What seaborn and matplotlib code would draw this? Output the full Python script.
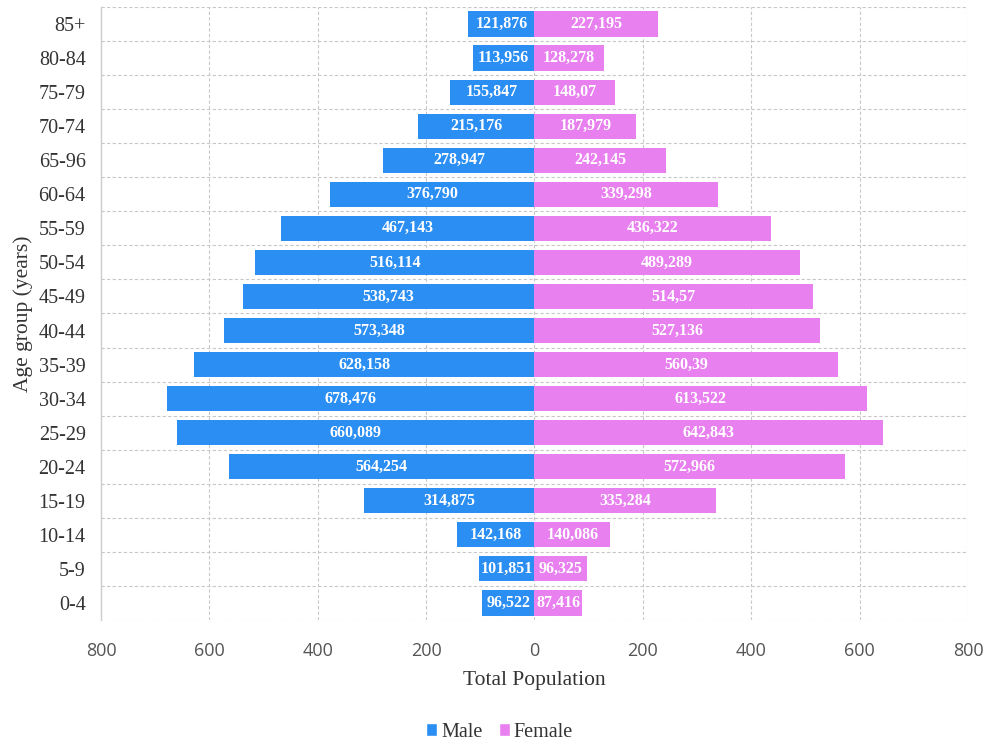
import matplotlib
matplotlib.use("Agg")
import matplotlib.pyplot as plt
import seaborn as sns
import pandas as pd
from matplotlib.patches import Patch

# Age groups, top of the pyramid first
age_groups = ["85+", "80-84", "75-79", "70-74", "65-96", "60-64", "55-59", "50-54",
              "45-49", "40-44", "35-39", "30-34", "25-29", "20-24", "15-19",
              "10-14", "5-9", "0-4"]

# Population in thousands, written with a decimal comma
male_labels = ["121,876", "113,956", "155,847", "215,176", "278,947", "376,790",
               "467,143", "516,114", "538,743", "573,348", "628,158", "678,476",
               "660,089", "564,254", "314,875", "142,168", "101,851", "96,522"]
female_labels = ["227,195", "128,278", "148,07", "187,979", "242,145", "339,298",
                 "436,322", "489,289", "514,57", "527,136", "560,39", "613,522",
                 "642,843", "572,966", "335,284", "140,086", "96,325", "87,416"]

x_ticks = [-800, -600, -400, -200, 0, 200, 400, 600, 800]

MALE_COLOR = "#2b8ef3"
FEMALE_COLOR = "#e880ef"


def to_number(s):
    return float(s.replace(",", "."))


male_vals = [to_number(s) for s in male_labels]
female_vals = [to_number(s) for s in female_labels]

df = pd.DataFrame({
    "age": age_groups * 2,
    "value": [-v for v in male_vals] + female_vals,
    "sex": ["Male"] * len(age_groups) + ["Female"] * len(age_groups),
})

sns.set_theme(style="white")
serif = ["Liberation Serif", "DejaVu Serif"]

fig = plt.figure(figsize=(9.85, 7.44), dpi=100)
ax = fig.add_axes([0.1025, 0.1667, 0.8802, 0.8239])

sns.barplot(data=df, x="value", y="age", hue="sex", order=age_groups,
            hue_order=["Male", "Female"], palette=[MALE_COLOR, FEMALE_COLOR],
            dodge=False, orient="h", width=0.74, saturation=1, legend=False, ax=ax)

for bar in ax.patches:
    bar.set_edgecolor("none")

# Value labels centred inside each bar
for i in range(len(age_groups)):
    ax.text(-male_vals[i] / 2, i, male_labels[i], ha="center", va="center",
            color="white", fontsize=11.5, fontweight="bold", family=serif)
    ax.text(female_vals[i] / 2, i, female_labels[i], ha="center", va="center",
            color="white", fontsize=11.5, fontweight="bold", family=serif)

ax.set_xlim(-800, 800)
ax.set_ylim(len(age_groups) - 0.5, -0.5)
ax.set_xticks(x_ticks)
ax.set_xticklabels([str(abs(t)) for t in x_ticks], family="Open Sans",
                   fontsize=13, color="#555555")
ax.set_yticks(range(len(age_groups)))
ax.set_yticklabels(age_groups, family=serif, fontsize=14.5, color="#333333")
ax.tick_params(axis="x", length=0, pad=16)
ax.tick_params(axis="y", length=0, pad=11)

# Dashed grid: vertical at ticks, horizontal between age groups
ax.set_axisbelow(True)
grid_kw = dict(color="#c8c8c8", linewidth=0.8, linestyle=(0, (3, 2)), zorder=0)
for t in x_ticks[1:]:
    ax.axvline(t, **grid_kw)
for k in range(len(age_groups) + 1):
    ax.axhline(k - 0.5, **grid_kw)

for side in ("top", "right", "bottom"):
    ax.spines[side].set_visible(False)
ax.spines["left"].set_color("#cccccc")
ax.spines["left"].set_linewidth(1.0)

ax.set_xlabel("Total Population", family=serif, fontsize=15.5, color="#333333")
ax.xaxis.set_label_coords(0.5, -0.083)
ax.set_ylabel("Age group (years)", family=serif, fontsize=15.5, color="#333333")
ax.yaxis.set_label_coords(-0.078, 0.5)

handles = [Patch(facecolor=MALE_COLOR, label="Male"),
           Patch(facecolor=FEMALE_COLOR, label="Female")]
fig.legend(handles=handles, loc="center", bbox_to_anchor=(0.507, 0.016), ncol=2,
           frameon=False, handlelength=0.55, handleheight=0.55, handletextpad=0.2,
           columnspacing=0.8, prop={"family": serif, "size": 14.5},
           labelcolor="#333333")

fig.savefig("out.png", dpi=100)
